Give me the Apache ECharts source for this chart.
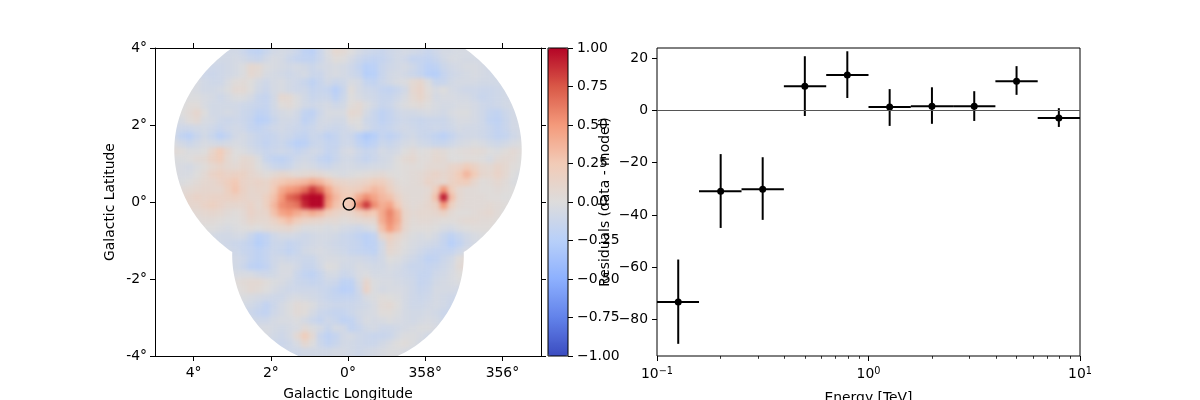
<!DOCTYPE html>
<html>
<head>
<meta charset="utf-8">
<title>Residuals</title>
<script src="https://cdn.jsdelivr.net/npm/echarts@6/dist/echarts.min.js"></script>
<style>
  html, body { margin: 0; padding: 0; background: #fff; overflow: hidden; }
  #page { position: relative; width: 1200px; height: 400px; }
  #mapClip { position: absolute; left: 155px; top: 48px; width: 386px; height: 308px; overflow: hidden; }
  #mapHeat { position: absolute; filter: blur(2px); }
  #main { position: absolute; left: 0; top: 0; width: 1200px; height: 400px; }
</style>
</head>
<body>
<div id="page">
  <div id="mapClip"><div id="mapHeat"></div></div>
  <div id="main"></div>
</div>
<script>
// residual map in hundredths, cells of 0.2 deg
// first row is the top of the map (lat 3.9), first column is lon 4.9
const rowStartCol = [8,6,6,5,4,3,3,2,2,2,1,1,1,1,1,1,1,2,2,2,3,4,4,5,6,7,9,9,9,9,9,9,10,10,11,11,12,13,14,16];
const residualRows = [
  [-6,-8,-8,-12,-18,-20,-14,-8,-6,-8,-12,-20,-22,-12,-2,8,6,0,-6,-10,-12,-14,-10,-8,-6,-8,-10,-14,-10,-6,-6,-5,-5,-5,-5],
  [-6,-6,-8,-8,-6,-8,-12,-14,-8,-4,-6,-12,-16,-18,-18,-12,-4,2,0,-6,-12,-16,-18,-16,-12,-8,-10,-16,-16,-18,-14,-8,-4,-5,-6,-6,-6,-6,-6],
  [-8,-10,-10,-8,-6,-2,8,6,-2,-4,-6,-8,-6,-8,-12,-8,-6,-4,-6,-10,-16,-24,-22,-14,-10,-8,-6,-10,-16,-22,-20,-12,-8,-6,-4,-4,-6,-8,-6],
  [-6,-10,-12,-10,-8,-6,-2,8,4,-4,-6,-8,-10,-8,-6,-12,-12,-6,-4,-6,-10,-14,-26,-24,-14,-8,-6,-8,-12,-16,-24,-26,-16,-10,-8,-6,-4,-6,-8,-8,-8],
  [-2,-4,-8,-10,-10,-4,2,4,0,-6,-10,-6,-4,-8,-10,-14,-20,-14,-8,-12,-10,-4,-6,-16,-18,-12,-8,-4,-2,6,10,-2,-14,-14,-8,-6,-6,-6,-8,-8,-8,-6,-6],
  [-2,-2,-4,-8,-8,-6,-2,6,6,0,-8,-12,-6,-4,-8,-10,-10,-16,-14,-16,-24,-14,2,-6,-10,-12,-16,-18,-14,-8,8,13,2,-4,0,-6,-8,-10,-10,-12,-12,-10,-8,-6,-6],
  [-4,-2,-2,-4,-6,-10,-6,-2,-2,-6,-14,-16,-8,8,6,-2,-8,-14,-12,-12,-20,-12,0,-4,-8,-10,-14,-14,-10,-4,6,12,4,-6,-4,-4,-6,-6,-10,-14,-12,-10,-8,-8,-6],
  [-2,-2,2,2,-4,-8,-8,-8,-8,-10,-12,-14,-16,-8,2,4,-2,-8,-10,-8,-6,-10,-8,2,6,-2,-8,-14,-12,-6,-2,2,4,0,-4,-6,-6,-4,-4,-6,-10,-12,-10,-8,-6,-6,-6],
  [-2,0,4,10,0,-8,-8,-6,-8,-12,-14,-20,-18,-10,-6,-4,-8,-18,-20,-10,-4,-4,-4,8,6,-6,-14,-20,-16,-10,-8,-8,-6,-4,-6,-8,-4,-2,-2,-6,-10,-16,-18,-12,-8,-6,-6],
  [-6,-4,2,6,-4,-6,-10,-12,-10,-12,-16,-24,-22,-14,-8,-8,-10,-20,-16,-8,-6,-8,-8,2,0,-10,-14,-20,-16,-12,-10,-12,-14,-12,-12,-12,-8,-4,-4,-6,-10,-18,-20,-14,-8,-6,-6],
  [-5,-8,-10,-10,-8,-7,-10,-14,-10,-8,-10,-16,-18,-14,-10,-8,-10,-12,-15,-12,-8,-10,-12,-10,-6,-2,-8,-14,-16,-14,-10,-8,-10,-13,-12,-10,-12,-10,-6,-8,-8,-10,-14,-18,-14,-8,-6,-5,-5],
  [-4,-8,-18,-22,-14,-8,-14,-22,-16,-8,-6,-10,-14,-16,-14,-10,-12,-16,-18,-12,-14,-20,-16,-10,-12,-22,-30,-26,-16,-20,-16,-10,-8,-12,-14,-18,-22,-16,-10,-8,-8,-10,-14,-18,-16,-10,-6,-5,-5],
  [0,-3,-8,-12,-8,-4,-6,-8,-6,-4,-6,-10,-14,-18,-14,-12,-18,-24,-22,-14,-12,-16,-16,-10,-10,-18,-24,-20,-12,-14,-10,-6,-4,-8,-10,-14,-14,-10,-6,-4,-2,-4,-8,-10,-8,-4,-2,-2,-2],
  [3,4,2,-2,-2,0,12,24,10,0,-2,-6,-10,-14,-12,-10,-12,-16,-12,-8,-10,-16,-14,-6,-4,-10,-14,-12,-6,-8,-6,0,4,0,2,6,4,0,2,3,5,4,0,-2,2,6,2,0,0],
  [0,-2,-2,0,4,6,16,22,8,2,8,6,-2,-14,-18,-20,-16,-10,-8,-10,-16,-20,-14,-8,-8,-12,-16,-12,-8,-6,0,6,8,2,3,8,6,0,0,2,2,0,-4,4,6,5,0,0,0],
  [-2,-2,-4,-6,-2,2,8,12,8,6,10,8,0,-6,-12,-14,-12,-6,-4,-6,-10,-12,-8,-6,-6,-8,-8,-6,-6,-4,0,2,3,2,6,6,6,12,14,22,16,8,6,12,8,2,0,-2,-2],
  [0,-2,-4,-4,0,6,14,18,14,16,16,10,6,2,6,10,8,4,6,8,6,2,-2,-4,-2,0,2,4,6,2,0,2,4,6,10,14,10,14,24,36,24,10,8,14,8,0,-4,-4,-4],
  [-2,-2,0,4,8,10,14,20,26,14,12,14,12,20,26,30,32,35,42,36,26,15,12,10,12,15,22,20,12,4,2,4,6,14,10,8,16,20,22,10,2,4,8,4,-2,-4,-4],
  [2,4,6,8,10,10,10,18,28,16,10,12,12,25,42,50,55,65,85,70,45,28,20,18,20,28,35,30,18,8,4,4,4,6,20,52,22,8,4,4,2,2,4,2,0,-2,-2],
  [6,6,10,14,12,14,14,16,18,14,10,10,18,30,50,70,78,95,100,100,55,35,25,25,42,55,45,35,30,15,6,4,4,8,30,95,32,8,4,4,4,2,2,0,0,-2,-2],
  [8,10,10,14,18,14,10,10,10,14,8,18,35,55,60,65,90,100,100,50,30,22,28,60,85,55,40,45,25,8,4,6,10,16,50,18,6,4,4,4,6,4,2,0,0],
  [4,6,8,10,8,4,2,6,14,10,12,30,45,50,42,35,42,35,22,15,10,12,20,28,25,42,58,40,12,6,8,8,10,16,6,2,2,4,6,8,4,0,-2],
  [0,2,4,4,2,0,0,4,10,8,8,15,25,32,22,15,12,10,6,6,2,4,6,8,10,40,55,42,12,4,6,6,4,2,2,4,6,6,4,4,2,0,-2],
  [-2,0,0,-2,-4,-2,0,2,0,4,6,8,10,4,-2,-2,-2,-4,-2,-6,-8,-10,-6,-2,30,50,35,10,2,2,2,0,-4,-6,-2,0,2,2,2,0,-2],
  [-4,-6,-8,-8,-6,-6,-14,-22,-18,-10,-6,-6,-8,-10,-8,-6,-6,-8,-12,-14,-18,-22,-18,10,20,12,4,-2,-4,-2,-6,-14,-20,-14,-8,-4,-2,-2,-4],
  [-6,-8,-10,-12,-14,-18,-26,-20,-12,-12,-16,-14,-10,-8,-6,-8,-10,-12,-14,-16,-22,-20,-8,12,6,0,-4,-6,-8,-10,-16,-25,-18,-10,-6,-4,-4],
  [-8,-10,-14,-16,-20,-16,-12,-14,-18,-14,-8,-6,-4,-6,-8,-10,-14,-16,-18,-20,-8,8,4,-2,-6,-10,-14,-16,-16,-16,-10,-4,-2],
  [-6,-8,-10,-16,-20,-16,-10,-8,-10,-10,-12,-12,-6,-4,-4,-6,-8,-8,-10,-12,-8,0,-2,-6,-10,-14,-20,-18,-12,-8,2,6,2],
  [-4,-8,-12,-20,-22,-18,-10,-4,-4,-8,-14,-14,-8,0,-2,-8,-8,-4,-6,-8,-8,-4,-6,-10,-14,-14,-16,-14,-10,-6,4,8,4],
  [-2,-4,-4,-4,-8,-10,-8,-4,-4,-12,-18,-20,-14,-6,-6,-12,-10,-4,-2,-6,-6,-6,-8,-10,-12,-16,-16,-10,-8,-4,0,2,0],
  [0,2,4,6,6,2,-2,-4,-8,-12,-14,-16,-14,-10,-12,-20,-20,-6,10,-2,-4,-4,-6,-8,-10,-16,-14,-8,-6,-4,-2,-2,-2],
  [-2,0,2,6,4,0,-4,-8,-10,-10,-10,-10,-12,-14,-18,-24,-22,-10,14,-2,-6,-4,-4,-6,-10,-14,-12,-6,-6,-6,-8,-8,-8],
  [-2,-2,-4,-6,-8,-10,-10,-6,-4,-6,-8,-10,-14,-16,-16,-16,-12,-4,-2,2,0,-2,-6,-10,-12,-10,-6,-8,-10,-10,-10],
  [-6,-6,-8,-12,-18,-12,-6,-2,4,2,-2,-8,-10,-12,-12,-12,-10,-8,-4,4,6,0,-6,-10,-10,-8,-6,-8,-12,-12,-10],
  [-10,-12,-16,-18,-10,-6,-2,4,2,-6,-12,-14,-16,-16,-12,-8,-6,-4,2,2,-2,-6,-8,-8,-6,-8,-12,-12,-12],
  [-8,-8,-10,-10,-6,-4,-4,-2,-6,-12,-16,-10,-14,-20,-18,-10,-4,-6,-4,-2,-4,-6,-8,-6,-4,-6,-10,-12,-12],
  [-6,-4,-4,-6,-8,-6,-4,4,-2,-6,-14,-6,-8,-18,-14,-8,-6,-10,-10,-8,-6,-4,-2,-2,-4,-8,-10],
  [-6,-4,-8,-10,-6,6,22,6,-14,-20,-16,-8,-6,-10,-12,-14,-14,-12,-6,-2,-2,-4,-8,-10,-10],
  [-8,-10,-12,-10,-4,8,0,-12,-18,-14,-8,-8,-10,-12,-12,-8,-4,0,2,-2,-6,-8,-8],
  [-8,-10,-10,-8,-8,-8,-8,-6,-6,-8,-10,-8,-6,-4,-2,-2,-4,-6,-8]
];
const mapCols = 50;
const mapRows = 40;

// outline of the observed region on the sky, degrees
const upperFootprint = { lat: 1.35, halfLon: 4.5, halfLat: 3.56 };
const lowerFootprint = { lat: -1.38, halfLon: 3.0, halfLat: 2.9 };
const footprintJoinLat = -1.25;

const sourcePosition = [[-0.03, -0.05]];
const lonTicks = [4, 2, 0, -2, -4];

const colorbarStops = ['#3b4cc0', '#6282ea', '#8db0fe', '#b8d0f9', '#dddcdc', '#f2cbb7', '#f49a7b', '#d95847', '#b40426'];

// spectrum residuals
const energyCenter = [0.126, 0.2, 0.316, 0.5, 0.794, 1.259, 1.995, 3.162, 5.012, 7.943];
const energyLow = [0.1, 0.158, 0.251, 0.398, 0.631, 1, 1.585, 2.512, 3.981, 6.31];
const energyHigh = [0.158, 0.251, 0.398, 0.631, 1, 1.585, 2.512, 3.981, 6.31, 10];
const residual = [-73.4, -30.9, -30.2, 9.3, 13.6, 1.3, 1.6, 1.6, 11.2, -2.9];
const residualLow = [-89.4, -45, -41.9, -2.1, 4.8, -5.9, -5.1, -4, 6, -6.3];
const residualHigh = [-57.1, -16.7, -17.9, 20.8, 22.7, 8.2, 8.9, 7.4, 17, 0.9];
const residualTicks = [-80, -60, -40, -20, 0, 20];
const energyMinorTicks = [0.2, 0.3, 0.4, 0.5, 0.6, 0.7, 0.8, 0.9, 2, 3, 4, 5, 6, 7, 8, 9];

const tickFont = { color: '#000', fontFamily: 'DejaVu Sans', fontSize: 13.9 };
const blackLine = { lineStyle: { color: '#000', width: 1 } };
const plainLine = { show: true, onZero: false, ...blackLine };

// heatmap sits in its own chart so css can soften the cells, one extra cell of
// padding each side keeps the soft edge outside the plot
const cellW = 386 / mapCols;
const cellH = 308 / mapRows;
const heatDom = document.getElementById('mapHeat');
heatDom.style.left = -cellW + 'px';
heatDom.style.top = -cellH + 'px';
heatDom.style.width = cellW * (mapCols + 2) + 'px';
heatDom.style.height = cellH * (mapRows + 2) + 'px';

const heatData = [];
for (let j = -1; j <= mapRows; j++) {
  const r = Math.min(Math.max(j, 0), mapRows - 1);
  const row = residualRows[r];
  for (let i = -1; i <= mapCols; i++) {
    const k = Math.min(Math.max(i - rowStartCol[r], 0), row.length - 1);
    heatData.push([i + 1, j + 1, row[k] / 100]);
  }
}
const indexList = n => Array.from({ length: n }, (_, i) => i);

const heatChart = echarts.init(heatDom);
heatChart.setOption({
  animation: false,
  grid: { left: 0, right: 0, top: 0, bottom: 0, outerBoundsMode: 'none' },
  xAxis: { type: 'category', show: false, data: indexList(mapCols + 2) },
  yAxis: { type: 'category', show: false, inverse: true, data: indexList(mapRows + 2) },
  visualMap: { show: false, min: -1, max: 1, inRange: { color: colorbarStops } },
  series: [{ type: 'heatmap', data: heatData, progressive: 0, itemStyle: { borderWidth: 0 } }]
});

function footprintHalfWidth(lat) {
  const f = lat > footprintJoinLat ? upperFootprint : lowerFootprint;
  const d = (lat - f.lat) / f.halfLat;
  return f.halfLon * Math.sqrt(Math.max(0, 1 - d * d));
}

// white outside the footprint, one polygon per side
function renderMask(params, api) {
  const side = api.value(0);
  const pts = [api.coord([side * 5, 4])];
  for (let lat = 4; lat >= -4; lat -= 0.05) {
    pts.push(api.coord([side * footprintHalfWidth(lat), lat]));
  }
  pts.push(api.coord([side * 5, -4]));
  return { type: 'polygon', shape: { points: pts }, style: { fill: '#fff', stroke: null } };
}

function renderErrorBar(params, api) {
  const y = api.coord([api.value(0), api.value(1)])[1];
  const x = api.coord([api.value(0), api.value(1)])[0];
  const x0 = api.coord([api.value(2), api.value(1)])[0];
  const x1 = api.coord([api.value(3), api.value(1)])[0];
  const y0 = api.coord([api.value(0), api.value(4)])[1];
  const y1 = api.coord([api.value(0), api.value(5)])[1];
  const style = { stroke: '#000', lineWidth: 2 };
  return {
    type: 'group',
    children: [
      { type: 'line', shape: { x1: x0, y1: y, x2: x1, y2: y }, style },
      { type: 'line', shape: { x1: x, y1: y0, x2: x, y2: y1 }, style }
    ]
  };
}

const errorData = energyCenter.map((e, i) => [e, residual[i], energyLow[i], energyHigh[i], residualLow[i], residualHigh[i]]);
const markerData = energyCenter.map((e, i) => [e, residual[i]]);

function powerLabel(v) {
  const p = Math.round(Math.log10(v));
  return '10{sup|' + String(p).replace('-', '\u2212') + '}';
}

const chart = echarts.init(document.getElementById('main'));
chart.setOption({
  animation: false,
  backgroundColor: 'transparent',
  grid: [
    { left: 155, top: 48, width: 386, height: 308, outerBoundsMode: 'none' },
    { left: 548, top: 48, width: 20, height: 308, outerBoundsMode: 'none', show: true, borderColor: '#000', borderWidth: 1, backgroundColor: 'transparent', z: 10 },
    { left: 657, top: 48, width: 423, height: 308, outerBoundsMode: 'none', show: true, borderColor: '#000', borderWidth: 1 }
  ],
  visualMap: {
    min: -1, max: 1, seriesIndex: [], left: 548, top: 48, itemWidth: 20, itemHeight: 308,
    calculable: false, text: null, showLabel: false, padding: 0, z: 1,
    inRange: { color: colorbarStops }
  },
  xAxis: [
    {
      gridIndex: 0, type: 'value', min: -5, max: 5, inverse: true, position: 'bottom', z: 5,
      name: 'Galactic Longitude', nameLocation: 'middle', nameGap: 31, nameTextStyle: tickFont,
      axisLine: plainLine, splitLine: { show: false },
      axisTick: { show: true, length: 5, customValues: lonTicks, ...blackLine },
      axisLabel: { ...tickFont, margin: 10, customValues: lonTicks, formatter: v => (v < 0 ? 360 + v : v) + '°' }
    },
    {
      gridIndex: 0, type: 'value', min: -5, max: 5, inverse: true, position: 'top', z: 5,
      axisLine: plainLine, splitLine: { show: false },
      axisTick: { show: true, length: 5, customValues: lonTicks, ...blackLine },
      axisLabel: { show: false }
    },
    { gridIndex: 1, type: 'value', min: 0, max: 1, show: false },
    {
      gridIndex: 2, type: 'log', min: 0.1, max: 10, logBase: 10, position: 'bottom',
      name: 'Energy [TeV]', nameLocation: 'middle', nameGap: 35, nameTextStyle: tickFont,
      axisLine: { show: false, onZero: false }, splitLine: { show: false },
      axisTick: { show: true, length: 5, ...blackLine },
      axisLabel: {
        ...tickFont, margin: 10, showMinLabel: true, showMaxLabel: true, formatter: powerLabel,
        rich: { sup: { ...tickFont, fontSize: 9.7, verticalAlign: 'top', padding: [0, 0, 6, 0] } }
      }
    },
    {
      gridIndex: 2, type: 'log', min: 0.1, max: 10, logBase: 10, position: 'bottom', offset: 0,
      axisLine: { show: false, onZero: false }, splitLine: { show: false }, axisLabel: { show: false },
      axisTick: { show: true, length: 2.8, customValues: energyMinorTicks, lineStyle: { color: '#000', width: 0.8 } }
    }
  ],
  yAxis: [
    {
      gridIndex: 0, type: 'value', min: -4, max: 4, interval: 2, position: 'left', z: 5,
      name: 'Galactic Latitude', nameLocation: 'middle', nameGap: 38, nameTextStyle: tickFont,
      axisLine: plainLine, splitLine: { show: false },
      axisTick: { show: true, length: 5, ...blackLine },
      axisLabel: { ...tickFont, margin: 8, formatter: v => v + '°' }
    },
    {
      gridIndex: 0, type: 'value', min: -4, max: 4, interval: 2, position: 'right', z: 5,
      axisLine: plainLine, splitLine: { show: false },
      axisTick: { show: true, length: 5, ...blackLine },
      axisLabel: { show: false }
    },
    {
      gridIndex: 1, type: 'value', min: -1, max: 1, interval: 0.25, position: 'right', z: 11,
      axisLine: { show: false, onZero: false }, splitLine: { show: false },
      axisTick: { show: true, length: 5, ...blackLine },
      axisLabel: { ...tickFont, margin: 9, formatter: v => v.toFixed(2).replace('-', '\u2212') }
    },
    {
      gridIndex: 2, type: 'value', min: -94.06, max: 23.95, position: 'left',
      name: 'Residuals (data - model)', nameLocation: 'middle', nameGap: 45, nameTextStyle: tickFont,
      axisLine: { show: false, onZero: false }, splitLine: { show: false },
      axisTick: { show: true, length: 5, customValues: residualTicks, ...blackLine },
      axisLabel: { ...tickFont, margin: 9, customValues: residualTicks, formatter: v => String(v).replace('-', '\u2212') }
    }
  ],
  series: [
    {
      type: 'custom', xAxisIndex: 0, yAxisIndex: 0, z: 2, silent: true,
      data: [[1], [-1]], encode: { x: 0 }, renderItem: renderMask
    },
    {
      type: 'scatter', xAxisIndex: 0, yAxisIndex: 0, z: 3, data: sourcePosition, symbolSize: 12,
      itemStyle: { color: 'rgba(0,0,0,0)', borderColor: '#000', borderWidth: 1.4, opacity: 1 }
    },
    {
      type: 'custom', xAxisIndex: 3, yAxisIndex: 3, z: 3, data: errorData,
      encode: { x: 0, y: 1 }, renderItem: renderErrorBar
    },
    {
      type: 'scatter', xAxisIndex: 3, yAxisIndex: 3, z: 4, data: markerData, symbolSize: 7,
      itemStyle: { color: '#000', opacity: 1 },
      markLine: {
        silent: true, symbol: 'none', animation: false, label: { show: false },
        lineStyle: { color: '#555', width: 1, type: 'solid' },
        data: [{ yAxis: 0 }]
      }
    }
  ]
});
</script>
</body>
</html>
